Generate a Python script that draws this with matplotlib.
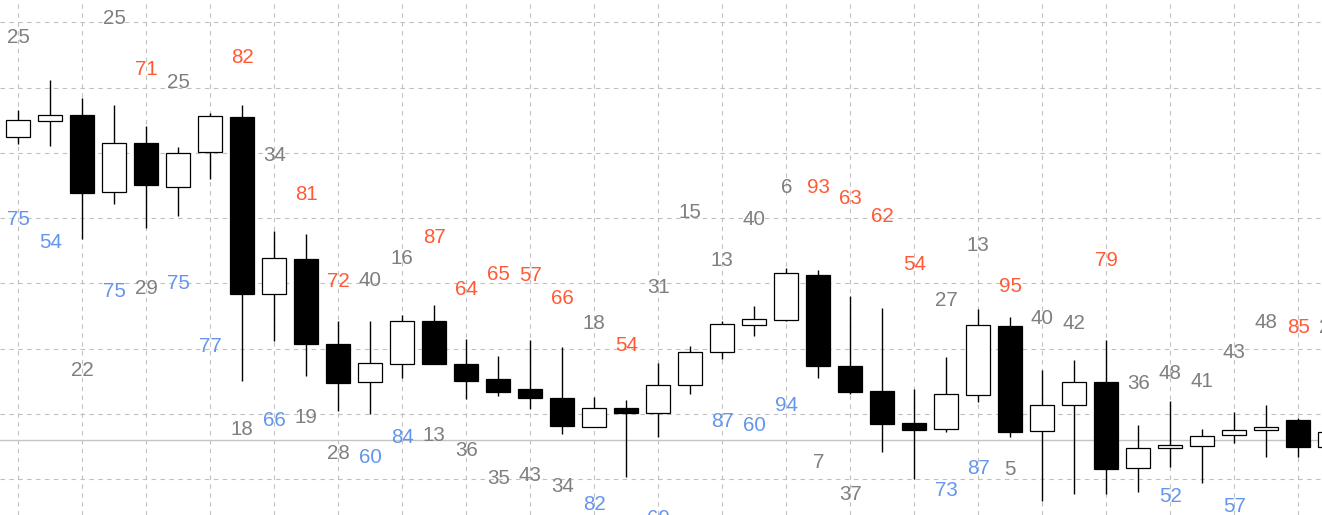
import numpy as np
import matplotlib
matplotlib.use('Agg')
import matplotlib.pyplot as plt

# candle data (index = bar number)
opens = [152.4, 154.8, 155.8, 144.0, 151.5, 144.7, 150.1, 155.5, 128.4, 133.7,
         120.7, 114.9, 117.6, 124.3, 117.7, 115.4, 113.8, 112.5, 108.0, 110.9,
         110.1, 114.4, 119.5, 123.6, 124.4, 131.3, 117.4, 113.5, 108.6, 107.7,
         112.9, 123.5, 107.4, 111.4, 114.9, 101.7, 104.8, 105.1, 106.8, 107.5,
         109.1, 105.0]
highs = [156.6, 161.2, 158.4, 157.3, 154.1, 150.9, 156.1, 157.4, 138.0, 137.5,
         124.3, 124.3, 125.2, 126.7, 121.5, 118.9, 121.4, 120.3, 112.6, 112.2,
         117.8, 120.4, 124.2, 126.6, 132.4, 132.1, 128.1, 126.3, 113.9, 118.7,
         126.1, 124.9, 116.8, 118.3, 121.4, 108.3, 112.0, 107.7, 110.3, 111.4,
         109.4, 107.8]
lows = [151.3, 151.0, 136.8, 142.2, 138.5, 140.3, 146.0, 115.1, 121.2, 115.9,
        110.5, 110.0, 115.5, 117.6, 112.3, 112.8, 110.8, 106.9, 108.0, 100.4,
        106.5, 113.1, 118.4, 121.9, 124.2, 115.6, 113.0, 104.2, 100.1, 107.3,
        111.8, 106.5, 96.7, 97.7, 97.8, 98.0, 101.9, 99.5, 105.5, 103.5,
        103.5, 104.5]
closes = [155.0, 155.8, 143.8, 151.5, 145.0, 149.9, 155.6, 128.4, 133.9, 120.7,
          114.7, 117.8, 124.2, 117.6, 115.1, 113.4, 112.4, 108.2, 111.0, 110.1,
          114.4, 119.5, 123.8, 124.5, 131.6, 117.3, 113.4, 108.5, 107.5, 113.0,
          123.6, 107.3, 111.4, 114.9, 101.6, 104.8, 105.2, 106.6, 107.5, 108.0,
          105.0, 107.3]
ref_level = 106.0

# number labels: bar, price level, text, kind (n = neutral, r = red, b = blue)
label_bar = [0, 0, 1, 2, 3, 3, 4, 4, 5, 5, 6, 7, 7, 8, 8, 9, 9, 10, 10, 11, 11,
             12, 12, 13, 13, 14, 14, 15, 15, 16, 16, 17, 17, 18, 18, 19, 20, 20,
             21, 22, 22, 23, 23, 24, 24, 25, 25, 26, 26, 27, 28, 29, 29, 30, 30,
             31, 31, 32, 33, 34, 35, 36, 36, 37, 38, 38, 39, 40, 41]
label_price = [167.9, 140.0, 136.5, 116.9, 170.8, 129.0, 163.0, 129.5, 161.0, 130.2,
               120.6, 164.8, 107.9, 149.8, 109.3, 143.9, 109.7, 130.5, 104.2, 130.7,
               103.6, 134.1, 106.7, 137.3, 107.0, 129.3, 104.7, 131.6, 100.4, 131.5,
               100.8, 127.9, 99.1, 124.1, 96.4, 120.7, 129.6, 94.2, 141.1, 133.8,
               109.1, 140.0, 108.5, 144.9, 111.6, 144.9, 102.8, 143.3, 97.9, 140.5,
               133.1, 127.6, 98.5, 136.1, 101.9, 129.8, 101.7, 124.9, 124.1, 133.8,
               114.9, 116.5, 97.6, 115.2, 119.7, 96.1, 124.3, 123.5, 123.5]
label_text = ['25', '75', '54', '22', '25', '75', '71', '29', '25', '75',
              '77', '82', '18', '34', '66', '81', '19', '72', '28', '40',
              '60', '16', '84', '87', '13', '64', '36', '65', '35', '57',
              '43', '66', '34', '18', '82', '54', '31', '69', '15', '13',
              '87', '40', '60', '6', '94', '93', '7', '63', '37', '62',
              '54', '27', '73', '13', '87', '95', '5', '40', '42', '79',
              '36', '48', '52', '41', '43', '57', '48', '85', '23']
label_kind = ['n', 'b', 'b', 'n', 'n', 'b', 'r', 'n', 'n', 'b',
              'b', 'r', 'n', 'n', 'b', 'r', 'n', 'r', 'n', 'n',
              'b', 'n', 'b', 'r', 'n', 'r', 'n', 'r', 'n', 'r',
              'n', 'r', 'n', 'n', 'b', 'r', 'n', 'b', 'n', 'n',
              'b', 'n', 'b', 'n', 'b', 'r', 'n', 'r', 'n', 'r',
              'r', 'n', 'b', 'n', 'b', 'r', 'n', 'n', 'n', 'r',
              'n', 'n', 'b', 'n', 'n', 'b', 'n', 'r', 'n']
kind_color = {'n': '#7f7f7f', 'r': '#ff5a36', 'b': '#6495ed'}

plt.rcParams['font.family'] = ['Liberation Sans', 'DejaVu Sans']

fig = plt.figure(figsize=(13.22, 5.15), dpi=100)
ax = fig.add_axes([0, 0, 1, 1])

x = np.arange(len(opens))
o = np.array(opens)
c = np.array(closes)
up = c >= o

ax.vlines(x, lows, highs, color='k', lw=1.0, zorder=2)
ax.bar(x, np.abs(c - o), bottom=np.minimum(o, c), width=0.75,
       color=np.where(up, 'white', 'black'), edgecolor='black', linewidth=0.9, zorder=3)

ax.axhline(ref_level, color='#c4c4c4', lw=1.0, zorder=1)

for b, p, t, k in zip(label_bar, label_price, label_text, label_kind):
    ax.annotate(t, (b, p), xytext=(0, -1.2), textcoords='offset points',
                color=kind_color[k], fontsize=14.8, ha='center', va='center',
                zorder=4, annotation_clip=False)

ax.set_xlim(-0.572, 40.74)
ax.set_ylim(94.55, 173.4)
ax.set_xticks(np.arange(0, 41, 2))
ax.set_yticks(np.arange(100, 171, 10))
ax.grid(True, color='#c0c0c0', linestyle=(0, (4, 4)), linewidth=0.8)
ax.set_axisbelow(True)
ax.tick_params(length=0, labelleft=False, labelbottom=False)
for s in ax.spines.values():
    s.set_visible(False)

plt.savefig('out.png', dpi=100)
